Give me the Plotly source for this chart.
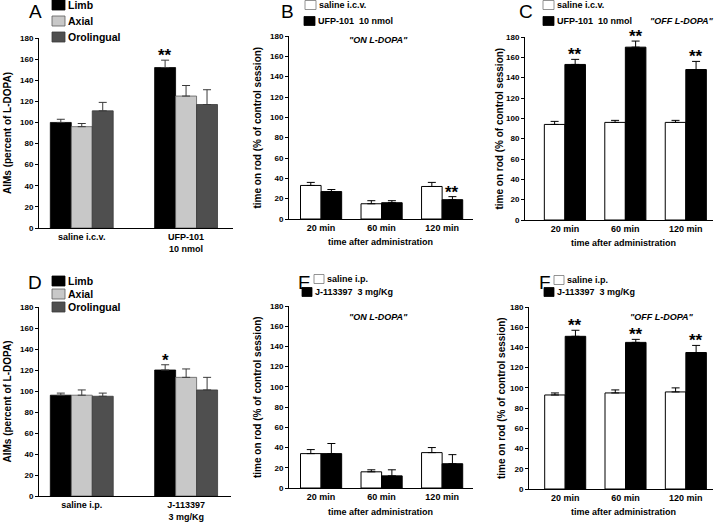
import plotly.graph_objects as go

W, H = 720, 526

# ---------------- data ----------------
aims_series = ["Limb", "Axial", "Orolingual"]
aims_colors = ["#000000", "#c8c8c8", "#4f4f4f"]
aims_lines = ["#000000", "#5a5a5a", "#3a3a3a"]

groups_A = ["saline i.c.v.", "UFP-101<br>10 nmol"]
A_vals = {"Limb": [100, 152], "Axial": [96, 125], "Orolingual": [111, 117]}
A_errs = {"Limb": [3, 7], "Axial": [3, 10], "Orolingual": [8, 14]}
A_stars = {"Limb": ["", "**"], "Axial": ["", ""], "Orolingual": ["", ""]}

groups_D = ["saline i.p.", "J-113397<br>3 mg/Kg"]
D_vals = {"Limb": [96, 120], "Axial": [96, 113], "Orolingual": [95, 101]}
D_errs = {"Limb": [2, 5], "Axial": [5, 8], "Orolingual": [3, 12]}
D_stars = {"Limb": ["", "*"], "Axial": ["", ""], "Orolingual": ["", ""]}

times = ["20 min", "60 min", "120 min"]

B_series = ["saline i.c.v.", "UFP-101\u00a0\u00a010 nmol"]
B_vals = [[33, 15, 32], [27, 16, 19]]
B_errs = [[3, 3, 4], [2, 2, 3]]
B_stars = [["", "", ""], ["", "", "**"]]

C_series = ["saline i.c.v.", "UFP-101\u00a0\u00a010 nmol"]
C_vals = [[94, 96, 96], [153, 170, 148]]
C_errs = [[3, 2, 2], [5, 6, 8]]
C_stars = [["", "", ""], ["**", "**", "**"]]

E_series = ["saline i.p.", "J-113397\u00a0\u00a03 mg/Kg"]
E_vals = [[34, 16, 35], [34, 12, 24]]
E_errs = [[4, 2, 5], [10, 6, 9]]
E_stars = [["", "", ""], ["", "", ""]]

F_series = ["saline i.p.", "J-113397\u00a0\u00a03 mg/Kg"]
F_vals = [[93, 95, 96], [151, 145, 135]]
F_errs = [[2, 3, 4], [6, 3, 7]]
F_stars = [["", "", ""], ["**", "**", "**"]]

pair_colors = ["#ffffff", "#000000"]
pair_lines = ["#000000", "#000000"]

# ---------------- layout helpers ----------------
def px_x(p):
    return p / W

def px_y(p):
    return 1 - p / H

panels = {
    # name: (x0, x1, y_bottom, y_top, xrange)
    "A": (39, 233, 228, 38, [-0.41, 1.45]),
    "B": (289, 473, 219, 36, [-0.53, 2.51]),
    "C": (525, 713, 220, 37, [-0.66, 2.45]),
    "D": (39, 231, 496, 307, [-0.41, 1.43]),
    "E": (289, 473, 488, 306, [-0.53, 2.51]),
    "F": (529, 713, 489, 307, [-0.60, 2.45]),
}
order = ["A", "B", "C", "D", "E", "F"]
FAM = "Liberation Sans, Arial, sans-serif"
BOLD = dict(family=FAM, color="black", weight="bold")

fig = go.Figure()
annotations = []
shapes = []

gap3 = 0.397
gap2 = 0.32


def star_notes(axn, cats_n, n, gap, i, stars, vals, errs):
    bw = (1 - gap) / n
    off = (i - (n - 1) / 2) * bw
    for k in range(cats_n):
        if stars[k]:
            annotations.append(dict(
                x=k + off, y=vals[k] + errs[k], xref="x" + axn, yref="y" + axn,
                text="<b>" + stars[k] + "</b>", showarrow=False,
                xanchor="center", yanchor="bottom",
                yshift=-7, font=dict(family=FAM, size=17, color="black")))


def add_bars(panel, cats, series, vals, errs, stars, fills, lines, ecolor, lw):
    idx = order.index(panel) + 1
    axn = "" if idx == 1 else str(idx)
    n = len(series)
    gap = gap3 if n == 3 else gap2
    bw = (1 - gap) / n
    for i, s in enumerate(series):
        fig.add_trace(go.Bar(
            x=cats, y=vals[i], name=s, showlegend=False,
            width=bw, offset=(i - n / 2) * bw,
            marker=dict(color=fills[i], line=dict(color=lines[i], width=lw)),
            error_y=dict(type="data", array=errs[i], arrayminus=[0] * len(errs[i]),
                         symmetric=False, color=ecolor, thickness=1, width=4),
            xaxis="x" + axn, yaxis="y" + axn))
        star_notes(axn, len(cats), n, gap, i, stars[i], vals[i], errs[i])


add_bars("A", groups_A, aims_series, [A_vals[s] for s in aims_series],
         [A_errs[s] for s in aims_series], [A_stars[s] for s in aims_series],
         aims_colors, aims_lines, "#3a3a3a", 0.8)
add_bars("B", times, B_series, B_vals, B_errs, B_stars, pair_colors, pair_lines, "black", 1)
add_bars("C", times, C_series, C_vals, C_errs, C_stars, pair_colors, pair_lines, "black", 1)
add_bars("D", groups_D, aims_series, [D_vals[s] for s in aims_series],
         [D_errs[s] for s in aims_series], [D_stars[s] for s in aims_series],
         aims_colors, aims_lines, "#3a3a3a", 0.8)
add_bars("E", times, E_series, E_vals, E_errs, E_stars, pair_colors, pair_lines, "black", 1)
add_bars("F", times, F_series, F_vals, F_errs, F_stars, pair_colors, pair_lines, "black", 1)

layout = dict(
    width=W, height=H, margin=dict(l=0, r=0, t=0, b=0, autoexpand=False),
    paper_bgcolor="white", plot_bgcolor="white",
    barmode="overlay", showlegend=False,
)

for n, p in enumerate(order, start=1):
    x0, x1, yb, yt, xr = panels[p]
    k = "" if n == 1 else str(n)
    layout["xaxis" + k] = dict(
        domain=[px_x(x0), px_x(x1)], anchor="y" + k, range=xr, type="category",
        showline=True, linecolor="black", linewidth=1, ticks="", showgrid=False,
        zeroline=False, tickfont=dict(BOLD, size=9), fixedrange=True, automargin=False)
    layout["yaxis" + k] = dict(
        domain=[px_y(yb), px_y(yt)], anchor="x" + k, range=[0, 180],
        tickvals=list(range(0, 181, 20)), showline=True, linecolor="black", linewidth=1,
        ticks="outside", ticklen=3, tickwidth=1, tickcolor="black", showgrid=False,
        zeroline=False, tickfont=dict(BOLD, size=8), fixedrange=True, automargin=False)


def note(xc, yc, text, font, **kw):
    d = dict(x=px_x(xc), y=px_y(yc), xref="paper", yref="paper", text=text,
             showarrow=False, xanchor="center", yanchor="middle", font=font)
    d.update(kw)
    annotations.append(d)


# axis titles
def ytitle(text, xc, yb, yt):
    note(xc, (yb + yt) / 2, text, dict(BOLD, size=10), textangle=-90)


ytitle("AIMs (percent of L-DOPA)", 7, 228, 38)
ytitle("AIMs (percent of L-DOPA)", 7, 496, 307)
ytitle("time on rod (% of control session)", 257, 219, 36)
ytitle("time on rod (% of control session)", 499, 220, 37)
ytitle("time on rod (% of control session)", 257, 488, 306)
ytitle("time on rod (% of control session)", 501, 489, 307)

for xc, yc in [(380, 242), (623, 243), (380, 512), (623, 512)]:
    note(xc, yc, "time after administration", dict(BOLD, size=9))

# panel letters
letters = {"A": (35, 12), "B": (287, 12), "C": (526, 12), "D": (35, 282), "E": (304, 282), "F": (545, 282)}
for L, (xc, yc) in letters.items():
    note(xc, yc, L, dict(family=FAM, size=19, color="black"))

# condition notes
notes = [('"ON L-DOPA"', 378, 40), ('"OFF L-DOPA"', 682, 21), ('"ON L-DOPA"', 378, 317), ('"OFF L-DOPA"', 662, 317)]
for t, xc, yc in notes:
    note(xc, yc, "<i>" + t + "</i>", dict(BOLD, size=9))


# manual legends
def legend(names, fills, lines, xs, rows, sw=12, sh=10, fs=10):
    for nm, fc, lc, x0, yc in zip(names, fills, lines, xs, rows):
        shapes.append(dict(type="rect", xref="paper", yref="paper", layer="below",
                           x0=px_x(x0), x1=px_x(x0 + sw), y0=px_y(yc + sh / 2), y1=px_y(yc - sh / 2),
                           fillcolor=fc, line=dict(color=lc, width=0.8)))
        note(x0 + sw + 1, yc, nm, dict(BOLD, size=fs), xanchor="left")


legend(aims_series, aims_colors, aims_lines, [52, 52, 52], [5, 21, 37], sw=13, sh=10, fs=10.5)
legend(aims_series, aims_colors, aims_lines, [52, 52, 52], [281, 294, 307], sw=13, sh=10, fs=10.5)
legend(B_series, pair_colors, ["#777", "#000"], [305, 304], [5, 21], sw=11, sh=9, fs=9)
legend(C_series, pair_colors, ["#777", "#000"], [543, 543], [5, 21], sw=11, sh=9, fs=9)
legend(E_series, pair_colors, ["#777", "#000"], [314, 302], [279, 292], sw=10, sh=9, fs=9)
legend(F_series, pair_colors, ["#777", "#000"], [554, 544], [280, 292], sw=10, sh=9, fs=9)

layout["annotations"] = annotations
layout["shapes"] = shapes
fig.update_layout(**layout)
fig.write_html("out.html", config={"displayModeBar": False},
               post_script="document.body.style.margin='0';document.body.style.overflow='hidden';")
